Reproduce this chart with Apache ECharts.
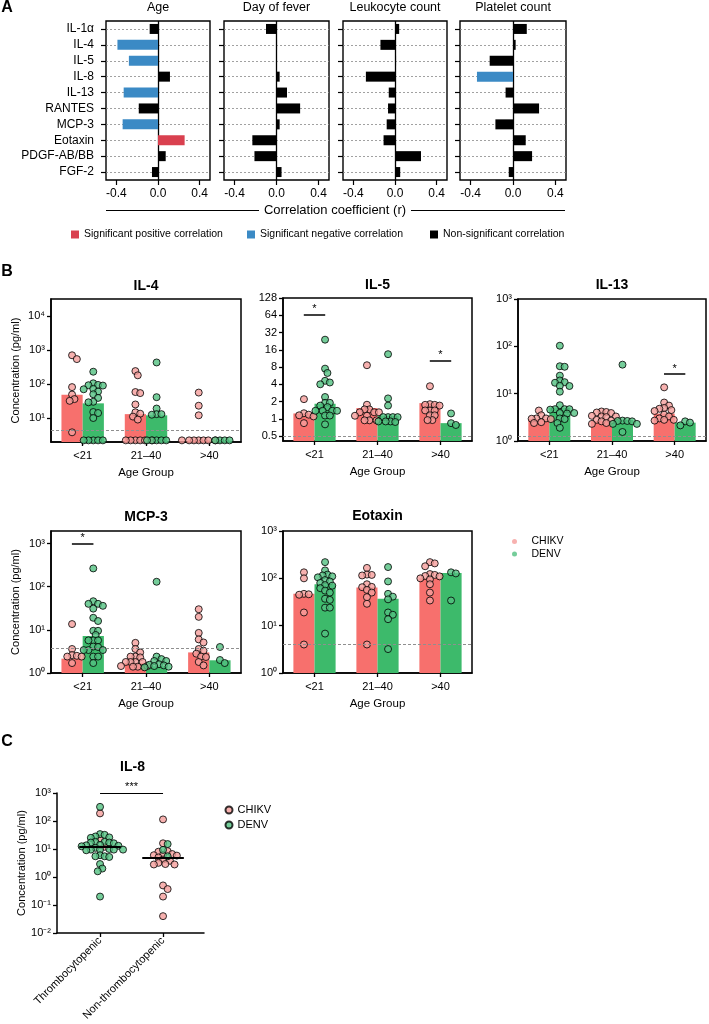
<!DOCTYPE html>
<html><head><meta charset="utf-8">
<script src="https://cdn.jsdelivr.net/npm/echarts@6/dist/echarts.min.js"></script>
<style>html,body{margin:0;padding:0;background:#fff}#c{width:709px;height:1024px}</style>
</head><body><div id="c"></div>
<script>
// ---------------- DATA ----------------
// Panel A: correlation coefficients
const cytokines = ['IL-1α','IL-4','IL-5','IL-8','IL-13','RANTES','MCP-3','Eotaxin','PDGF-AB/BB','FGF-2'];
const corrPanels = ['Age','Day of fever','Leukocyte count','Platelet count'];
const corrAge      = [-0.08,-0.39,-0.28, 0.115,-0.33,-0.185,-0.34, 0.256, 0.074,-0.058];
const corrFever    = [-0.10, 0.005, 0.003, 0.03, 0.10, 0.225, 0.03,-0.23,-0.21, 0.048];
const corrLeuk     = [ 0.04,-0.14, 0.01,-0.28,-0.06,-0.067,-0.08,-0.11, 0.25, 0.05];
const corrPlatelet = [ 0.13, 0.025,-0.22,-0.34,-0.07, 0.246,-0.166, 0.12, 0.18,-0.04];
// 1 = significant positive, -1 = significant negative, 0 = non-significant
const sigAge      = [0,-1,-1,0,-1,0,-1,1,0,0];
const sigFever    = [0,0,0,0,0,0,0,0,0,0];
const sigLeuk     = [0,0,0,0,0,0,0,0,0,0];
const sigPlatelet = [0,0,0,-1,0,0,0,0,0,0];
const corrTicks = [-0.4, 0, 0.4];
const corrLegend = ['Significant positive correlation','Significant negative correlation','Non-significant correlation'];

// Panel B: concentrations by age group (pg/ml)
const ageGroups = ['<21','21–40','>40'];
const il4Chikv = [[700,540,81,49,36,32,3.8],[240,180,58,54,25,14.7,13.4,11,9,2.2,2.2,2.2,2.2,2.2,2.2],[56,23,12,2.2,2.2,2.2,2.2,2.2,2.2,2.2]];
const il4Denv  = [[230,105,94,92,90,72,70,60,50,39,30,29,15,14,10,2.2,2.2,2.2,2.2,2.2],[430,41,19,13,13,12.5,2.2,2.2,2.2,2.2,2.2],[2.2,2.2,2.2,2.2]];
const il4BarChikv = [48,13,2.2], il4BarDenv = [27,12,2.2];
const il4Lod = 4.4, il4Ticks = [10,100,1000,10000];
const il4SigGroups = [], il4SigLevels = [];

const il5Chikv = [[2.2,1.25,1.15,1.1,1.18,0.84],[8.6,1.76,1.46,1.46,1.3,1.3,1.3,1.13,1.13,0.94,0.94,0.94],[3.7,1.8,1.75,1.75,1.7,1.4,1.4,1.4,1.15,1.15,0.95,0.95]];
const il5Denv  = [[24,7.5,6.3,4.6,4.3,4.0,2.4,1.9,1.9,1.7,1.6,1.38,1.38,1.38,1.38,1.14,1.14,0.8],[13.4,2.27,1.7,1.07,1.07,1.07,1.07,0.9,0.9,0.9,0.88],[1.24,0.84,0.78]];
const il5BarChikv = [1.24,1.54,1.88], il5BarDenv = [1.83,1.13,0.84];
const il5Lod = 0.5, il5Ticks = [0.5,1,2,4,8,16,32,64,128];
const il5SigGroups = [0,2], il5SigLevels = [65,10.5];

const il13Chikv = [[4.4,3.5,3.0,2.9,3.0,2.95,2.5,2.4],[4.2,4.1,4.0,3.9,3.4,3.3,3.2,3.3,2.8,2.7,2.6,2.4,2.3],[13.6,6.5,5.6,5.0,4.8,4.5,4.3,3.6,3.3,3.0,2.8,2.8,2.7]];
const il13Denv  = [[103,38,37,24,19,17.5,17,14.7,14.5,11,5.7,4.7,4.7,4.7,4.6,3.9,3.9,3.8,3.0,2.9,2.4,1.9],[41,2.7,2.65,2.6,2.65,2.3,2.3,1.55],[2.6,2.45,2.14]];
const il13BarChikv = [2.9,2.65,3.8], il13BarDenv = [5.06,2.8,2.44];
const il13Lod = 1.28, il13Ticks = [1,10,100,1000];
const il13SigGroups = [2], il13SigLevels = [26];

const mcpChikv = [[13.6,3.6,2.6,2.5,2.4,2.4,1.7],[5,3.6,3,2.4,2.4,2.3,1.8,1.8,1.8,1.8,1.45,1.45,1.4,1.4],[30,20,8.5,6,5.1,3.6,3.3,2.8,2.4,2.35,1.8,1.5]];
const mcpDenv  = [[265,46,40,40,36,31,19,16,9.5,9.5,7.6,5.7,5.7,5.7,4.1,4,3.4,3.4,3.4,2.4,2.4,1.7],[130,2.4,2.1,1.9,1.9,1.6,1.55,1.5,1.45,1.4,1.35],[4,2,1.7]];
const mcpBarChikv = [2.15,1.7,3.0], mcpBarDenv = [7.2,1.43,1.97];
const mcpLod = 3.75, mcpTicks = [1,10,100,1000];
const mcpSigGroups = [0], mcpSigLevels = [1000];

const eoChikv = [[134,100,47,46,45,19,4],[166,120,118,115,75,66,65,57,50,40,29,4],[220,207,180,123,118,112,110,100,95,75,50,34]];
const eoDenv  = [[220,147,120,115,110,105,92,86,80,72,70,62,55,50,37,35,24,24,6.8],[173,86,47,41,36,19,17,13.7,3.2],[134,127,34]];
const eoBarChikv = [47,64,100], eoBarDenv = [75,37,130];
const eoLod = 3.95, eoTicks = [1,10,100,1000];
const eoSigGroups = [], eoSigLevels = [];

// Panel C: IL-8 by platelet status
const il8Groups = ['Thrombocytopenic','Non-thrombocytopenic'];
const il8ThromboDenv  = [320,34,32,28,26,25,18,17,18,17,16,14,13,13.5,12.5,11,9.5,9.5,10,9,9.5,9.5,5.5,5.2,6,5.5,2.9,1.6,2.0,0.2];
const il8ThromboChikv = [187,23,12];
const il8NonDenv  = [15,9.3,5.5];
const il8NonChikv = [114,16,8,8.4,6.6,6.2,6,5.8,5,4.2,3.8,3.2,2.9,2.8,2.8,0.5,0.37,0.2,0.04];
const il8Medians = [12.3,5.0];
const il8Ticks = [0.01,0.1,1,10,100,1000];
const il8SigLevel = 1000;

// ---------------- STYLE / LAYOUT ----------------
const FONT = 'Liberation Sans, Arial, Helvetica, sans-serif';
const POS = '#d9404f', NEG = '#3b8ac5', NS = '#000000';
const CH_BAR = '#f7706d', DE_BAR = '#3dba6b', CH_PT = '#f59d9b', DE_PT = '#52c181';
const supMap = {'0':'⁰','1':'¹','2':'²','3':'³','4':'⁴','5':'⁵','-':'⁻'};
const sup = n => String(n).split('').map(c => supMap[c]).join('');

const option = {animation:false, backgroundColor:'#fff', textStyle:{fontFamily:FONT, color:'#000'},
  grid:[], xAxis:[], yAxis:[], series:[], legend:[], graphic:[]};
const G = option.graphic;
const txt = (text, x, y, size, weight, align) => G.push({type:'text', x, y, silent:true,
  style:{text, fontSize:size, fontFamily:FONT, fontWeight:weight||'normal', fill:'#000', align:align||'center', verticalAlign:'middle'}});

// ---------- Panel A ----------
txt('A', 7, 8, 16, 'bold');
const corrCfg = [
  {vals:corrAge, sig:sigAge, left:106, width:104},
  {vals:corrFever, sig:sigFever, left:224, width:105},
  {vals:corrLeuk, sig:sigLeuk, left:343, width:104},
  {vals:corrPlatelet, sig:sigPlatelet, left:460, width:106}
];
const sigKinds = [[1, corrLegend[0], POS], [-1, corrLegend[1], NEG], [0, corrLegend[2], NS]];
corrCfg.forEach((c, p) => {
  const gi = option.grid.length;
  option.grid.push({left:c.left, top:21, width:c.width, height:159, show:true, borderColor:'#000', borderWidth:1.4, backgroundColor:'rgba(0,0,0,0)'});
  option.xAxis.push({gridIndex:gi, type:'value', min:-0.5, max:0.5, axisLine:{show:false, onZero:false}, splitLine:{show:false},
    axisTick:{show:true, customValues:corrTicks, length:5, lineStyle:{color:'#000', width:1.2}},
    axisLabel:{customValues:corrTicks, formatter:v => v.toFixed(1), fontSize:12, color:'#000', margin:8}});
  option.yAxis.push({gridIndex:gi, type:'category', data:cytokines, inverse:true, axisLine:{show:false, onZero:false}, splitLine:{show:false},
    axisTick:{show:true, alignWithLabel:true, length:5, lineStyle:{color:'#000', width:1.2}},
    axisLabel:{show:p === 0, fontSize:12, color:'#000', margin:12}});
  const xi = option.xAxis.length - 1, yi = option.yAxis.length - 1;
  sigKinds.forEach(([s, name, color], k) => {
    const ser = {type:'bar', name, xAxisIndex:xi, yAxisIndex:yi, stack:'corr' + gi, barWidth:10, z:3,
      data:c.vals.map((v, i) => c.sig[i] === s ? v : '-'), itemStyle:{color}};
    if (k === 2) {
      ser.markLine = {silent:true, symbol:'none', z:1, animation:false, label:{show:false},
        lineStyle:{type:[2,2], color:'#8a8a8a', width:0.8},
        data:cytokines.map((n, i) => ({yAxis:i})).concat([{xAxis:0, lineStyle:{type:'solid', color:'#000', width:1.3}}])};
    }
    option.series.push(ser);
  });
  txt(corrPanels[p], c.left + c.width / 2, 8, 12.5);
});
txt('Correlation coefficient (r)', 335, 210, 13);
G.push({type:'line', silent:true, shape:{x1:106, y1:210.5, x2:259, y2:210.5}, style:{stroke:'#000', lineWidth:1}});
G.push({type:'line', silent:true, shape:{x1:411, y1:210.5, x2:565, y2:210.5}, style:{stroke:'#000', lineWidth:1}});
[[0,71],[1,247],[2,430]].forEach(([i, l]) => option.legend.push({data:[corrLegend[i]], left:l, top:229, padding:0,
  icon:'rect', itemWidth:8, itemHeight:8, selectedMode:false, textStyle:{fontSize:10.5, color:'#000'}}));

// ---------- beeswarm layout ----------
function swarm(items, center, pxX, pxY, D, step) {
  const order = items.slice().sort((a, b) => b.lv - a.lv);
  const placed = [];
  order.forEach(it => {
    const y = it.lv * pxY;
    let off = 0;
    for (let i = 0; i < 400; i++) {
      const o = Math.ceil(i / 2) * (i % 2 ? 1 : -1) * step;
      if (placed.every(p => (p.x - o) ** 2 + (p.y - y) ** 2 >= D * D)) { off = o; break; }
    }
    placed.push({x:off, y, it});
  });
  return placed.map(p => ({x:center + p.x / pxX, it:p.it}));
}

// ---------- Panel B ----------
txt('B', 7, 272, 16, 'bold');
const bCfg = [
  {title:'IL-4', chik:il4Chikv, denv:il4Denv, barC:il4BarChikv, barD:il4BarDenv, lod:il4Lod, ticks:il4Ticks, sg:il4SigGroups, sl:il4SigLevels,
   base:10, min:1.97, max:31623, left:51, top:299, width:190, height:143, yName:true, ty:286},
  {title:'IL-5', chik:il5Chikv, denv:il5Denv, barC:il5BarChikv, barD:il5BarDenv, lod:il5Lod, ticks:il5Ticks, sg:il5SigGroups, sl:il5SigLevels,
   base:2, min:0.41, max:128, left:283, top:298, width:189, height:143, yName:false, ty:285},
  {title:'IL-13', chik:il13Chikv, denv:il13Denv, barC:il13BarChikv, barD:il13BarDenv, lod:il13Lod, ticks:il13Ticks, sg:il13SigGroups, sl:il13SigLevels,
   base:10, min:1, max:1000, left:518, top:299, width:188, height:142, yName:false, ty:285},
  {title:'MCP-3', chik:mcpChikv, denv:mcpDenv, barC:mcpBarChikv, barD:mcpBarDenv, lod:mcpLod, ticks:mcpTicks, sg:mcpSigGroups, sl:mcpSigLevels,
   base:10, min:1, max:1950, left:51, top:531, width:190, height:142, yName:true, ty:517},
  {title:'Eotaxin', chik:eoChikv, denv:eoDenv, barC:eoBarChikv, barD:eoBarDenv, lod:eoLod, ticks:eoTicks, sg:eoSigGroups, sl:eoSigLevels,
   base:10, min:1, max:1000, left:283, top:531, width:189, height:142, yName:false, ty:516}
];
const OFF = 0.1675;
bCfg.forEach(c => {
  const lg = v => Math.log(v) / Math.log(c.base);
  const gi = option.grid.length;
  option.grid.push({left:c.left, top:c.top, width:c.width, height:c.height, show:true, borderColor:'#000', borderWidth:1.5, backgroundColor:'rgba(0,0,0,0)'});
  option.xAxis.push({gridIndex:gi, type:'category', data:ageGroups,
    axisLine:{show:true, onZero:false, lineStyle:{color:'#000', width:1.5}},
    axisTick:{show:true, alignWithLabel:true, length:4, lineStyle:{color:'#000', width:1.3}},
    axisLabel:{fontSize:11, color:'#000', margin:8},
    name:'Age Group', nameLocation:'middle', nameGap:25, nameTextStyle:{fontSize:11.5, color:'#000'}});
  const catIdx = option.xAxis.length - 1;
  option.xAxis.push({gridIndex:gi, type:'value', min:-0.5, max:2.5, show:false, axisLine:{onZero:false}});
  const valIdx = option.xAxis.length - 1;
  const lt = c.ticks.map(lg);
  option.yAxis.push({gridIndex:gi, type:'value', min:lg(c.min), max:lg(c.max), startValue:lg(c.min), splitLine:{show:false},
    axisLine:{show:true, onZero:false, lineStyle:{color:'#000', width:1.5}},
    axisTick:{show:true, customValues:lt, length:4, lineStyle:{color:'#000', width:1.3}},
    axisLabel:{customValues:lt, fontSize:11, color:'#000', margin:6,
      formatter:v => c.base === 10 ? '10' + sup(Math.round(v)) : String(Math.pow(2, Math.round(v)))},
    name:c.yName ? 'Concentration (pg/ml)' : '', nameLocation:'middle', nameGap:30, nameTextStyle:{fontSize:11, color:'#000'}});
  const yi = option.yAxis.length - 1;
  option.series.push({type:'bar', name:'CHIKV median', xAxisIndex:catIdx, yAxisIndex:yi, data:c.barC.map(lg),
    barGap:'0%', barCategoryGap:'33%', itemStyle:{color:CH_BAR}, z:2, silent:true});
  option.series.push({type:'bar', name:'DENV median', xAxisIndex:catIdx, yAxisIndex:yi, data:c.barD.map(lg),
    barGap:'0%', barCategoryGap:'33%', itemStyle:{color:DE_BAR}, z:2, silent:true});
  const pxX = c.width / 3, pxY = c.height / (lg(c.max) - lg(c.min));
  const mk = (groups, sgn) => {
    const out = [];
    groups.forEach((vals, g) => {
      swarm(vals.map(v => ({v, lv:lg(v)})), g + sgn * OFF, pxX, pxY, 4.8, 2.4).forEach(p => out.push([p.x, p.it.lv]));
    });
    return out;
  };
  option.series.push({type:'scatter', name:'CHIKV', xAxisIndex:valIdx, yAxisIndex:yi, data:mk(c.chik, -1),
    symbolSize:7, itemStyle:{color:CH_PT, borderColor:'#000', borderWidth:1}, z:4,
    markLine:{silent:true, symbol:'none', z:5, label:{show:false}, lineStyle:{type:[3,2], color:'#8f8f8f', width:1},
      data:[{yAxis:lg(c.lod)}]}});
  option.series.push({type:'scatter', name:'DENV', xAxisIndex:valIdx, yAxisIndex:yi, data:mk(c.denv, 1),
    symbolSize:7, itemStyle:{color:DE_PT, borderColor:'#000', borderWidth:1}, z:4,
    markLine:{silent:true, symbol:'none', z:6,
      label:{show:true, position:'middle', formatter:'*', fontSize:11, color:'#000', distance:0},
      lineStyle:{type:'solid', color:'#000', width:1.5},
      data:c.sg.map((g, i) => [{coord:[g - 0.17, lg(c.sl[i])]}, {coord:[g + 0.17, lg(c.sl[i])]}])}});
  txt(c.title, c.left + c.width / 2, c.ty, 14, 'bold');
});
option.legend.push({data:[{name:'CHIKV', itemStyle:{borderWidth:0}}, {name:'DENV', itemStyle:{borderWidth:0}}],
  orient:'vertical', left:512, top:536, padding:0, itemGap:1.5, icon:'circle', itemWidth:24, itemHeight:5,
  selectedMode:false, textStyle:{fontSize:10.5, color:'#000'}});

// ---------- Panel C ----------
txt('C', 7, 742, 16, 'bold');
{
  const lg = v => Math.log10(v);
  const gi = option.grid.length;
  const L = 57, T = 793, W = 147, H = 140, XMIN = 0.317, XMAX = 2.65;
  option.grid.push({left:L, top:T, width:W, height:H, show:false});
  option.xAxis.push({gridIndex:gi, type:'value', min:XMIN, max:XMAX, splitLine:{show:false},
    axisLine:{show:true, onZero:false, lineStyle:{color:'#000', width:1.5}},
    axisTick:{show:true, customValues:[1,2], length:4, lineStyle:{color:'#000', width:1.3}},
    axisLabel:{customValues:[1,2], formatter:v => il8Groups[Math.round(v) - 1], rotate:45, fontSize:11, color:'#000', margin:6}});
  const xi = option.xAxis.length - 1;
  const lt = il8Ticks.map(lg);
  option.yAxis.push({gridIndex:gi, type:'value', min:-2, max:3, splitLine:{show:false},
    axisLine:{show:true, onZero:false, lineStyle:{color:'#000', width:1.5}},
    axisTick:{show:true, customValues:lt, length:4, lineStyle:{color:'#000', width:1.3}},
    axisLabel:{customValues:lt, formatter:v => '10' + sup(Math.round(v)), fontSize:11, color:'#000', margin:6},
    name:'Concentration (pg/ml)', nameLocation:'middle', nameGap:29, nameTextStyle:{fontSize:11, color:'#000'}});
  const yi = option.yAxis.length - 1;
  const pxX = W / (XMAX - XMIN), pxY = H / 5;
  const groups = [
    [...il8ThromboChikv.map(v => ({v, lv:lg(v), s:'C'})), ...il8ThromboDenv.map(v => ({v, lv:lg(v), s:'D'}))],
    [...il8NonChikv.map(v => ({v, lv:lg(v), s:'C'})), ...il8NonDenv.map(v => ({v, lv:lg(v), s:'D'}))]
  ];
  const cPts = [], dPts = [];
  groups.forEach((items, g) => swarm(items, g + 1, pxX, pxY, 4.6, 2.3).forEach(p => (p.it.s === 'C' ? cPts : dPts).push([p.x, p.it.lv])));
  option.series.push({type:'scatter', name:'CHIKV', xAxisIndex:xi, yAxisIndex:yi, data:cPts, symbolSize:7,
    itemStyle:{color:CH_PT, borderColor:'#000', borderWidth:1}, z:4});
  option.series.push({type:'scatter', name:'DENV', xAxisIndex:xi, yAxisIndex:yi, data:dPts, symbolSize:7,
    itemStyle:{color:DE_PT, borderColor:'#000', borderWidth:1}, z:4,
    markLine:{silent:true, symbol:'none', z:6, lineStyle:{type:'solid', color:'#000', width:1},
      label:{show:true, position:'middle', fontSize:11, color:'#000', distance:1},
      data:[
        ...il8Medians.map((m, i) => [{coord:[i + 1 - 0.33, lg(m)], lineStyle:{type:'solid', color:'#000', width:2}, label:{show:false}},
                                     {coord:[i + 1 + 0.33, lg(m)]}]),
        [{coord:[1, lg(il8SigLevel)], lineStyle:{type:'solid', color:'#000', width:1}, label:{show:true, formatter:'***'}}, {coord:[2, lg(il8SigLevel)]}]
      ]}});
  txt('IL-8', L + W / 2 + 2, 767, 14, 'bold');
}
option.legend.push({data:['CHIKV','DENV'], orient:'vertical', left:224.5, top:804.5, padding:0, itemGap:4,
  icon:'circle', itemWidth:7, itemHeight:7, selectedMode:false, textStyle:{fontSize:11, color:'#000'}});

const chart = echarts.init(document.getElementById('c'), null, {renderer:'canvas'});
chart.setOption(option);
</script>
</body></html>
